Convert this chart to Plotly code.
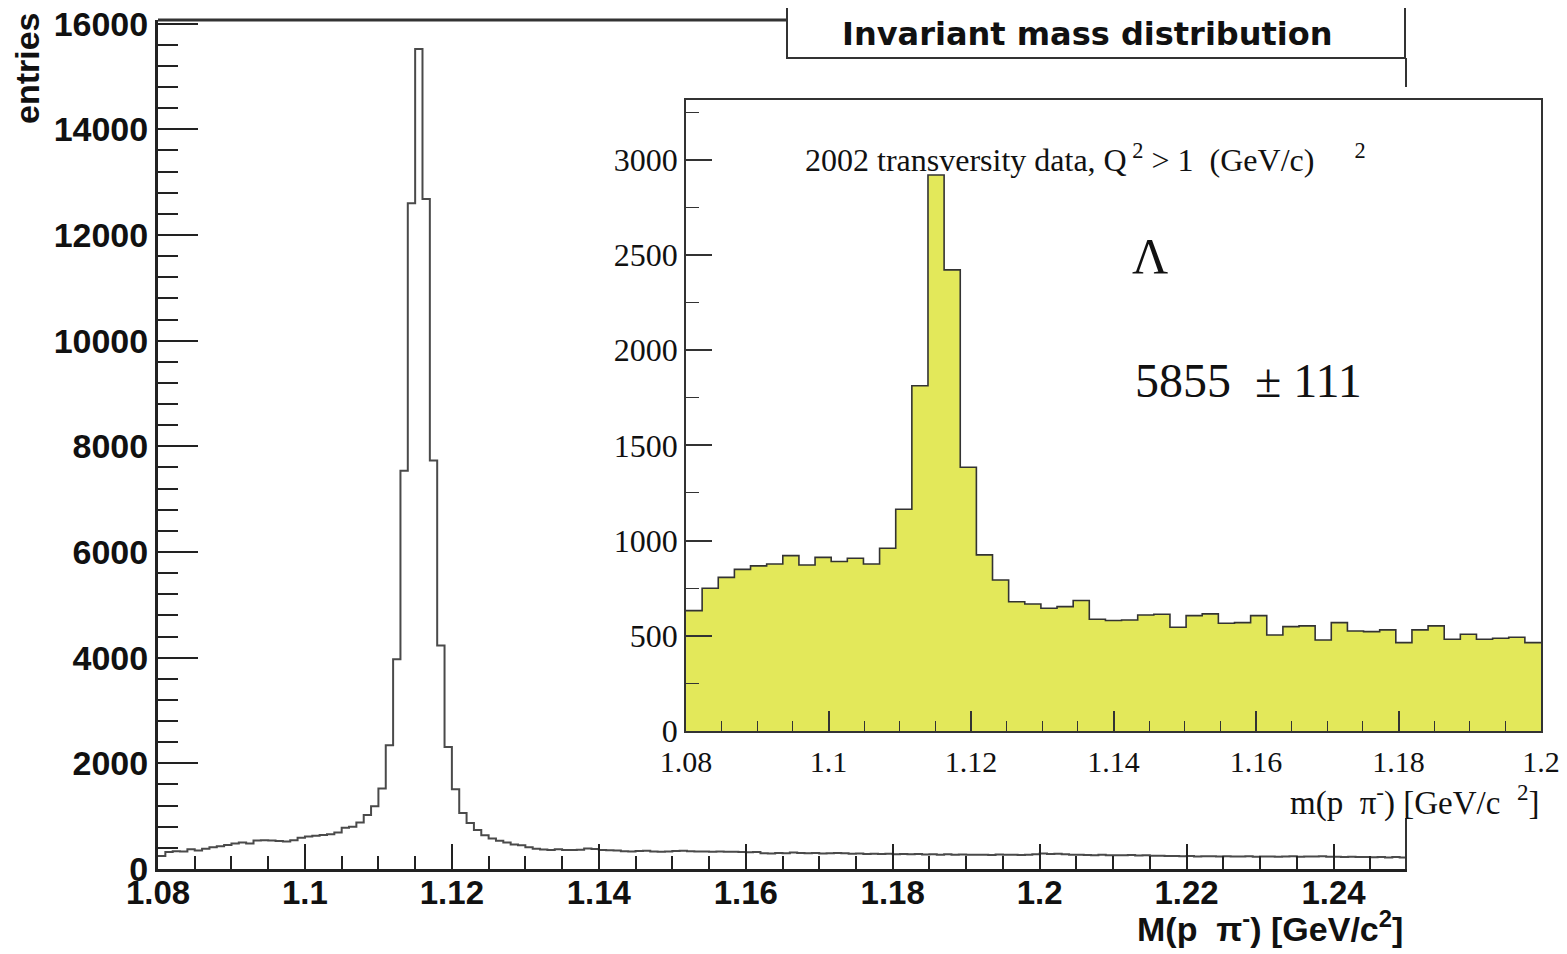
import numpy as np
import plotly.graph_objects as go

W, H = 1567, 954
OFF = 8  # page body margin of the html output

# ---------------- data ----------------
# main histogram: 170 bins of 0.001 GeV from 1.08 to 1.25
main_low = 1.08
main_binw = 0.001
main_counts = [
    245, 320, 335, 330, 372, 350, 385, 410, 430, 454,
    485, 500, 485, 540, 545, 540, 530, 520, 545, 590,
    615, 630, 645, 660, 690, 780, 800, 880, 1020, 1190,
    1525, 2344, 3970, 7540, 12600, 15520, 12680, 7730, 4230, 2310,
    1510, 1060, 870, 740, 640, 575, 535, 500, 465, 450,
    410, 385, 368, 360, 372, 360, 358, 365, 390, 380,
    362, 355, 350, 338, 332, 340, 345, 330, 325, 332,
    340, 345, 335, 330, 330, 325, 330, 328, 325, 320,
    318, 322, 300, 295, 305, 300, 310, 305, 298, 302,
    295, 300, 305, 298, 290, 295, 285, 290, 282, 288,
    280, 285, 278, 282, 275, 280, 272, 278, 270, 275,
    268, 272, 270, 265, 275, 268, 270, 265, 272, 280,
    295, 285, 290, 278, 270, 268, 265, 262, 268, 260,
    262, 258, 265, 255, 258, 252, 250, 245, 248, 240,
    245, 238, 242, 240, 236, 242, 238, 235, 240, 232,
    238, 235, 230, 236, 240, 232, 238, 235, 240, 232,
    230, 228, 232, 225, 228, 222, 225, 220, 226, 218,
]

# inset histogram: 53 bins from 1.08 to 1.2
inset_low = 1.08
inset_high = 1.20
inset_counts = [
    632, 750, 807, 849, 867, 877, 921, 872, 912, 890,
    907, 877, 960, 1165, 1813, 2920, 2422, 1385, 925, 793,
    679, 667, 645, 653, 685, 587, 580, 583, 609, 613,
    545, 606, 615, 566, 569, 606, 504, 548, 552, 478,
    569, 525, 522, 531, 464, 531, 552, 482, 508, 482,
    487, 492, 464,
]

main_xticks = [1.08, 1.10, 1.12, 1.14, 1.16, 1.18, 1.20, 1.22, 1.24]
main_xlabels = ["1.08", "1.1", "1.12", "1.14", "1.16", "1.18", "1.2", "1.22", "1.24"]
main_yticks = [0, 2000, 4000, 6000, 8000, 10000, 12000, 14000, 16000]
main_ylabels = ["0", "2000", "4000", "6000", "8000", "10000", "12000", "14000", "16000"]

inset_xticks = [1.08, 1.10, 1.12, 1.14, 1.16, 1.18, 1.20]
inset_xlabels = ["1.08", "1.1", "1.12", "1.14", "1.16", "1.18", "1.2"]
inset_yticks = [0, 500, 1000, 1500, 2000, 2500, 3000]
inset_ylabels = ["0", "500", "1000", "1500", "2000", "2500", "3000"]

NB = "\u00a0"
title_text = "Invariant mass distribution"
inset_info = ("2002 transversity data, Q<sup>" + NB + "2</sup>" + NB + ">" + NB + "1"
              + NB * 2 + "(GeV/c)" + NB * 5 + "<sup>2</sup>")
signal_text = "5855" + NB * 2 + "\u00b1 111"
main_xtitle = "M(p" + NB * 2 + "\u03c0<sup>-</sup>) [GeV/c<sup>2</sup>]"
inset_xtitle = "m(p" + NB * 2 + "\u03c0<sup>-</sup>) [GeV/c" + NB * 2 + "<sup>2</sup>]"

# ---------------- helpers ----------------
def px(x):
    return (x - OFF) / W

def py(y):
    return 1 - (y - OFF) / H

main_edges = main_low + main_binw * np.arange(len(main_counts) + 1)
inset_edges = np.linspace(inset_low, inset_high, len(inset_counts) + 1)

fig = go.Figure()

fig.add_trace(go.Scatter(
    x=main_edges, y=list(main_counts) + [main_counts[-1]],
    mode="lines", line=dict(shape="hv", color="#4a4a4a", width=2),
    xaxis="x", yaxis="y", hoverinfo="skip", showlegend=False))

fig.add_trace(go.Scatter(
    x=inset_edges, y=list(inset_counts) + [inset_counts[-1]],
    mode="lines", line=dict(shape="hv", color="#333333", width=1.6),
    fill="tozeroy", fillcolor="#E3E85A",
    xaxis="x2", yaxis="y2", hoverinfo="skip", showlegend=False))

sans_bold_x = dict(family="Liberation Sans", size=33, color="#111111", weight="bold")
sans_bold_y = dict(family="Liberation Sans", size=34, color="#111111", weight="bold")
serif_x = dict(family="Liberation Serif", size=30, color="#111111")
serif_y = dict(family="Liberation Serif", size=32, color="#111111")

fig.update_layout(
    template="none",
    width=W, height=H, autosize=False,
    margin=dict(l=0, r=0, t=0, b=0, pad=0),
    paper_bgcolor="white", plot_bgcolor="rgba(0,0,0,0)",
    showlegend=False,
    xaxis=dict(
        domain=[px(158), px(1407)], range=[1.08, 1.25], anchor="y",
        automargin=False, ticklabeloverflow="allow",
        showline=True, linecolor="#222222", linewidth=3, mirror=False,
        ticks="inside", ticklen=25, tickwidth=2, tickcolor="#222222",
        tickvals=main_xticks, ticktext=main_xlabels, tickfont=sans_bold_x,
        minor=dict(ticks="inside", dtick=0.005, tick0=1.08, ticklen=13,
                   tickwidth=1.5, tickcolor="#222222", showgrid=False),
        showgrid=False, zeroline=False, ticklabelstandoff=-8,
    ),
    yaxis=dict(
        domain=[py(869), py(20)], range=[0, 16070], anchor="x",
        automargin=False, ticklabeloverflow="allow",
        showline=True, linecolor="#222222", linewidth=3, mirror=False,
        ticks="inside", ticklen=40, tickwidth=2, tickcolor="#222222",
        tickvals=main_yticks, ticktext=main_ylabels, tickfont=sans_bold_y,
        minor=dict(ticks="inside", dtick=400, tick0=0, ticklen=20,
                   tickwidth=1.5, tickcolor="#222222", showgrid=False),
        showgrid=False, zeroline=False, ticklabelstandoff=0,
    ),
    xaxis2=dict(
        domain=[px(686), px(1541)], range=[1.08, 1.20], anchor="y2",
        automargin=False, ticklabeloverflow="allow",
        showline=True, linecolor="#333333", linewidth=1.5, mirror=True,
        ticks="inside", ticklen=20, tickwidth=1.5, tickcolor="#333333",
        tickvals=inset_xticks, ticktext=inset_xlabels, tickfont=serif_x,
        minor=dict(ticks="inside", dtick=0.005, tick0=1.08, ticklen=10,
                   tickwidth=1.2, tickcolor="#333333", showgrid=False),
        showgrid=False, zeroline=False, ticklabelstandoff=3,
    ),
    yaxis2=dict(
        domain=[py(731), py(100)], range=[0, 3314], anchor="x2",
        automargin=False, ticklabeloverflow="allow",
        showline=True, linecolor="#333333", linewidth=1.5, mirror=True,
        ticks="inside", ticklen=26, tickwidth=1.5, tickcolor="#333333",
        tickvals=inset_yticks, ticktext=inset_ylabels, tickfont=serif_y,
        minor=dict(ticks="inside", dtick=250, tick0=0, ticklen=13,
                   tickwidth=1.2, tickcolor="#333333", showgrid=False),
        showgrid=False, zeroline=False, ticklabelstandoff=0,
    ),
)

shapes = [
    # main frame top and visible right-edge pieces
    dict(type="line", xref="paper", yref="paper", x0=px(158), x1=px(787),
         y0=py(20), y1=py(20), line=dict(color="#333333", width=3)),
    dict(type="line", xref="paper", yref="paper", x0=px(1406), x1=px(1406),
         y0=py(58), y1=py(87), line=dict(color="#333333", width=2)),
    dict(type="line", xref="paper", yref="paper", x0=px(1406), x1=px(1406),
         y0=py(818), y1=py(869), line=dict(color="#333333", width=2)),
    # title box
    dict(type="rect", xref="paper", yref="paper", x0=px(787), x1=px(1405),
         y0=py(58), y1=py(7), line=dict(color="#333333", width=2),
         fillcolor="white"),
]
fig.update_layout(shapes=shapes)

annotations = [
    dict(text=title_text, x=px(1087), y=py(34),
         font=dict(family="DejaVu Sans", size=32, color="#111111", weight="bold")),
    dict(text="entries", x=px(27), y=py(68), textangle=-90,
         font=dict(family="Liberation Sans", size=34, color="#111111", weight="bold")),
    dict(text=main_xtitle, x=px(1405), y=py(950),
         xanchor="right", yanchor="bottom",
         font=dict(family="Liberation Sans", size=34, color="#111111", weight="bold")),
    dict(text=inset_xtitle, x=px(1541), y=py(800),
         xanchor="right",
         font=dict(family="Liberation Serif", size=33, color="#111111")),
    dict(text=inset_info, x=px(803), y=py(158), xanchor="left",
         font=dict(family="Liberation Serif", size=32, color="#111111")),
    dict(text="\u039b", x=px(1150), y=py(256),
         font=dict(family="Liberation Serif", size=50, color="#111111")),
    dict(text=signal_text, x=px(1133), y=py(380), xanchor="left",
         font=dict(family="Liberation Serif", size=48, color="#111111")),
]
for a in annotations:
    a.setdefault("xanchor", "center")
    a.setdefault("yanchor", "middle")
    a.update(xref="paper", yref="paper", showarrow=False)
fig.update_layout(annotations=annotations)

fig.write_html("out.html")
